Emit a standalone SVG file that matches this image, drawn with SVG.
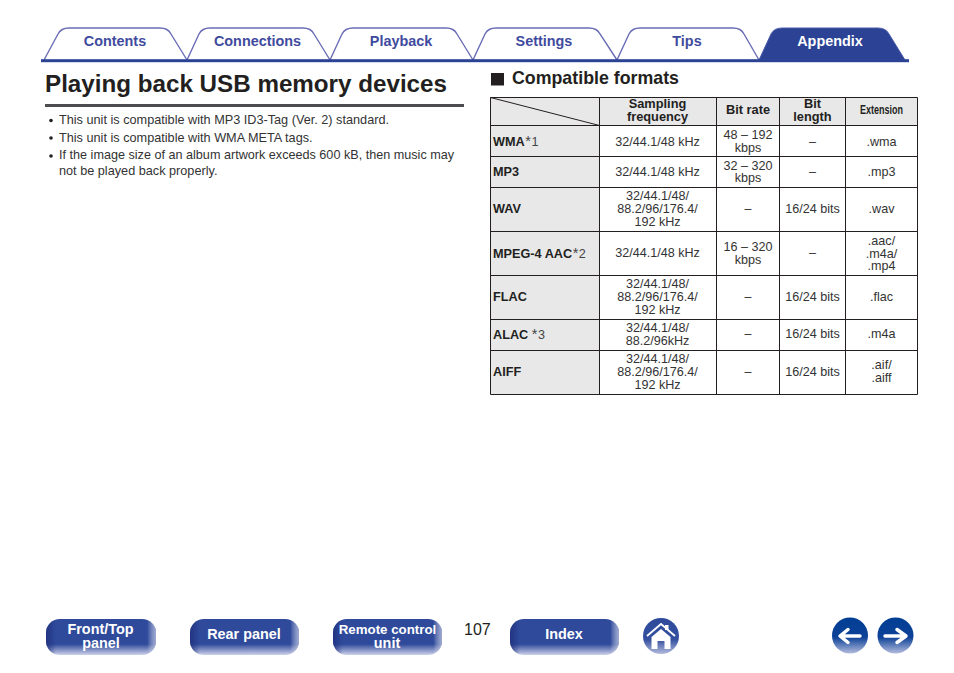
<svg xmlns="http://www.w3.org/2000/svg" width="954" height="673" viewBox="0 0 954 673">
<style>
text{font-family:"Liberation Sans",Arial,sans-serif;fill:#231f20}
.tab{fill:#fff;stroke:#6a6db5;stroke-width:1.4}
.tl{font-size:14.4px;font-weight:bold;fill:#3f4b9e;text-anchor:middle}
.b{font-size:14.4px;font-weight:bold;fill:#fff;text-anchor:middle}
.c{font-size:12.6px;text-anchor:middle;fill:#333}
.h{font-size:12.8px;font-weight:bold;text-anchor:middle}
.r{font-size:12.7px;font-weight:bold}
.st{font-size:14.5px;font-weight:normal;fill:#444}
.n{font-size:12.6px;font-weight:normal;fill:#444}
.gl{fill:none;stroke:#231f20;stroke-width:1}
.bul{font-size:12.7px;fill:#333}
</style>
<defs>
<linearGradient id="v" x1="0" y1="0" x2="0" y2="1"><stop offset="0" stop-color="#2f4a9b"/><stop offset=".7" stop-color="#2f4a9b"/><stop offset="1" stop-color="#cfd3ea"/></linearGradient>
<linearGradient id="h" x1="0" y1="0" x2="1" y2="0"><stop offset="0" stop-color="#1c2b78" stop-opacity=".7"/><stop offset=".09" stop-color="#1c2b78" stop-opacity="0"/><stop offset=".92" stop-color="#fff" stop-opacity="0"/><stop offset="1" stop-color="#c4c9e4" stop-opacity=".75"/></linearGradient>
<linearGradient id="cg" x1="0" y1="0" x2="0" y2="1"><stop offset="0" stop-color="#003e94"/><stop offset=".55" stop-color="#0d4297"/><stop offset="1" stop-color="#b4bcde"/></linearGradient>
<linearGradient id="hg" x1="0" y1="0" x2="0" y2="1"><stop offset="0" stop-color="#2f4a9b"/><stop offset=".6" stop-color="#34509f"/><stop offset="1" stop-color="#b4bcde"/></linearGradient>
</defs>
<g id="tabs">
<path id="tab-contents" class="tab" d="M44 60L58 34Q61 28 69 28H160Q168 28 171 34L187 60"/>
<path id="tab-connections" class="tab" d="M187 60L199 34Q202 28 210 28H303Q311 28 314 34L330 60"/>
<path id="tab-playback" class="tab" d="M330 60L342 34Q345 28 353 28H446Q454 28 457 34L473 60"/>
<path id="tab-settings" class="tab" d="M473 60L485 34Q488 28 496 28H589Q597 28 600 34L617 60"/>
<path id="tab-tips" class="tab" d="M617 60L629 34Q632 28 640 28H733Q741 28 744 34L759 60"/>
<path id="tab-appendix" d="M759 60L771 34Q774 28 782 28H878Q886 28 889 34L905 60Z" fill="#2b4295" stroke="#4b5aa8" stroke-width="1"/>
<rect x="41" y="59.2" width="868" height="3" fill="#2b4295"/>
<text class="tl" x="115" y="46">Contents</text>
<text class="tl" x="257.500" y="46">Connections</text>
<text class="tl" x="401" y="46">Playback</text>
<text class="tl" x="544" y="46">Settings</text>
<text class="tl" x="687" y="46">Tips</text>
<text class="tl" x="830" y="46" style="fill:#fff">Appendix</text>
</g>
<g id="heading">
<text x="45" y="92" font-size="24.2" font-weight="bold">Playing back USB memory devices</text>
<rect x="45" y="104" width="419" height="3" fill="#4d4d4f"/>
</g>
<g id="bullets">
<circle cx="51" cy="120.500" r="1.800" fill="#231f20"/>
<circle cx="51" cy="138" r="1.800" fill="#231f20"/>
<circle cx="51" cy="156" r="1.800" fill="#231f20"/>
<text class="bul" x="59" y="124">This unit is compatible with MP3 ID3-Tag (Ver. 2) standard.</text>
<text class="bul" x="59" y="142">This unit is compatible with WMA META tags.</text>
<text class="bul" x="59" y="159" style="font-size:12.64px">If the image size of an album artwork exceeds 600 kB, then music may</text>
<text class="bul" x="59" y="175">not be played back properly.</text>
</g>
<g id="section">
<rect x="491" y="73" width="13" height="12.500" fill="#231f20"/>
<text x="512" y="84" font-size="17.800" font-weight="bold">Compatible formats</text>
</g>
<g id="table">
<rect x="490.500" y="97.500" width="427" height="28" fill="#e8e8e9"/>
<rect x="490.500" y="125.500" width="109" height="269" fill="#e8e8e9"/>
<path class="gl" d="M490.500 97.500H917.500V394.500H490.500ZM490.500 125.500H917.500M490.500 156.500H917.500M490.500 187.500H917.500M490.500 231.500H917.500M490.500 275.500H917.500M490.500 319.500H917.500M490.500 350.500H917.500M599.500 97.500V394.500M716.500 97.500V394.500M779.500 97.500V394.500M845.500 97.500V394.500M490.500 97.500L599.500 125.500"/>
<text class="h" x="657.500" y="108">Sampling</text><text class="h" x="657.500" y="121">frequency</text>
<text class="h" x="748" y="114">Bit rate</text>
<text class="h" x="812.500" y="108">Bit</text><text class="h" x="812.500" y="121">length</text>
<text x="881.500" y="114" font-size="12.200" font-weight="bold" text-anchor="middle" textLength="43" lengthAdjust="spacingAndGlyphs">Extension</text>

<text class="r" x="493" y="146">WMA<tspan class="st" dx="0.500">*</tspan><tspan class="n" dx="0.500">1</tspan></text>
<text class="c" x="657.500" y="146">32/44.1/48 kHz</text>
<text class="c" x="748" y="139">48 – 192</text><text class="c" x="748" y="152">kbps</text>
<text class="c" x="812.500" y="146">–</text><text class="c" x="881.500" y="146">.wma</text>

<text class="r" x="493" y="176">MP3</text>
<text class="c" x="657.500" y="176">32/44.1/48 kHz</text>
<text class="c" x="748" y="170">32 – 320</text><text class="c" x="748" y="182">kbps</text>
<text class="c" x="812.500" y="176">–</text><text class="c" x="881.500" y="176">.mp3</text>

<text class="r" x="493" y="213">WAV</text>
<text class="c" x="657.500" y="200">32/44.1/48/</text><text class="c" x="657.500" y="213">88.2/96/176.4/</text><text class="c" x="657.500" y="226">192 kHz</text>
<text class="c" x="748" y="213">–</text><text class="c" x="812.500" y="213">16/24 bits</text><text class="c" x="881.500" y="213">.wav</text>

<text class="r" x="493" y="258">MPEG-4 AAC<tspan class="st" dx="0.500">*</tspan><tspan class="n" dx="0.500">2</tspan></text>
<text class="c" x="657.500" y="257">32/44.1/48 kHz</text>
<text class="c" x="748" y="251">16 – 320</text><text class="c" x="748" y="264">kbps</text>
<text class="c" x="812.500" y="257">–</text>
<text class="c" x="881.500" y="245">.aac/</text><text class="c" x="881.500" y="258">.m4a/</text><text class="c" x="881.500" y="270">.mp4</text>

<text class="r" x="493" y="301">FLAC</text>
<text class="c" x="657.500" y="288">32/44.1/48/</text><text class="c" x="657.500" y="301">88.2/96/176.4/</text><text class="c" x="657.500" y="314">192 kHz</text>
<text class="c" x="748" y="301">–</text><text class="c" x="812.500" y="301">16/24 bits</text><text class="c" x="881.500" y="301">.flac</text>

<text class="r" x="493" y="339">ALAC <tspan class="st">*</tspan><tspan class="n" dx="0.500">3</tspan></text>
<text class="c" x="657.500" y="332">32/44.1/48/</text><text class="c" x="657.500" y="345">88.2/96kHz</text>
<text class="c" x="748" y="338">–</text><text class="c" x="812.500" y="338">16/24 bits</text><text class="c" x="881.500" y="338">.m4a</text>

<text class="r" x="493" y="376">AIFF</text>
<text class="c" x="657.500" y="363">32/44.1/48/</text><text class="c" x="657.500" y="376">88.2/96/176.4/</text><text class="c" x="657.500" y="389">192 kHz</text>
<text class="c" x="748" y="376">–</text><text class="c" x="812.500" y="376">16/24 bits</text>
<text class="c" x="881.500" y="369">.aif/</text><text class="c" x="881.500" y="382">.aiff</text>
</g>
<g id="btn-front">
<rect x="46" y="619" width="110" height="36" rx="14" fill="url(#v)"/><rect x="46" y="619" width="110" height="36" rx="14" fill="url(#h)"/>
<text class="b" x="100.500" y="634">Front/Top</text><text class="b" x="101" y="648">panel</text>
</g>
<g id="btn-rear">
<rect x="190" y="619" width="109" height="36" rx="14" fill="url(#v)"/><rect x="190" y="619" width="109" height="36" rx="14" fill="url(#h)"/>
<text class="b" x="244" y="639">Rear panel</text>
</g>
<g id="btn-remote">
<rect x="333" y="619" width="109" height="36" rx="14" fill="url(#v)"/><rect x="333" y="619" width="109" height="36" rx="14" fill="url(#h)"/>
<text class="b" x="387.500" y="634" style="font-size:13.3px">Remote control</text><text class="b" x="387" y="648">unit</text>
</g>
<text id="page-number" x="464" y="635" font-size="16">107</text>
<g id="btn-index">
<rect x="510" y="619" width="109" height="36" rx="14" fill="url(#v)"/><rect x="510" y="619" width="109" height="36" rx="14" fill="url(#h)"/>
<text class="b" x="564" y="639">Index</text>
</g>
<g id="btn-home">
<circle cx="661" cy="636" r="18" fill="url(#hg)"/>
<path d="M647 636L661 624L675 636" fill="none" stroke="#fff" stroke-width="1.800"/>
<path d="M651.500 637L661 629L670.500 637V649H664.500V641H657.500V649H651.500Z" fill="#fff"/>
<rect x="665" y="625" width="3.500" height="5" fill="#fff"/>
</g>
<g id="btn-prev">
<circle cx="850" cy="635.500" r="18" fill="url(#cg)"/>
<path d="M860 636H841M848 629.500L840 636L848 642.500" fill="none" stroke="#fff" stroke-width="3.500" stroke-linejoin="round" stroke-linecap="round"/>
</g>
<g id="btn-next">
<circle cx="895.500" cy="635.500" r="18" fill="url(#cg)"/>
<path d="M885 636H905M897 629.500L906 636L897 642.500" fill="none" stroke="#fff" stroke-width="3.500" stroke-linejoin="round" stroke-linecap="round"/>
</g>
</svg>
